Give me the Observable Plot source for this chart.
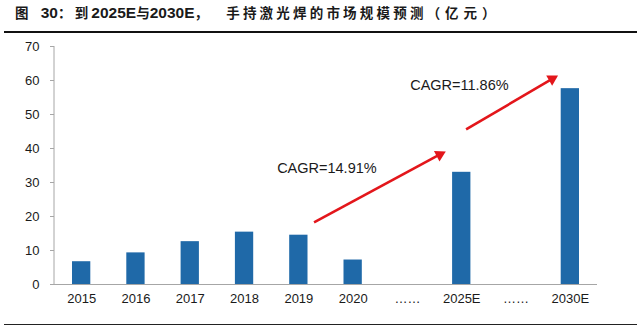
<!DOCTYPE html>
<html><head><meta charset="utf-8">
<script src="https://cdn.jsdelivr.net/npm/d3@7"></script>
<script src="https://cdn.jsdelivr.net/npm/@observablehq/plot@0.6"></script>
<style>
body{margin:0;background:#fff;width:640px;height:332px;overflow:hidden;font-family:"Liberation Sans",Arial,sans-serif}
#title{margin:0 3px 0 4px;height:33px;border-bottom:2px solid #111;box-sizing:border-box;line-height:26px;padding-left:11px;color:#1a1a1a;white-space:nowrap}
#title .c{font:bold 13.5px "Noto Sans CJK SC",sans-serif;letter-spacing:3.2px}
#title .c0{font:bold 13.5px "Noto Sans CJK SC",sans-serif;letter-spacing:0}
#title .l{font:bold 15.5px "Liberation Sans",Arial,sans-serif}
#title .p{font:bold 13.5px "Noto Sans CJK SC",sans-serif;letter-spacing:5px}
#chart{height:290px}
#foot{margin:1px 3px 0 4px;border-top:1px solid #222}
</style></head>
<body>
<div id="title"><span class="c">图</span><span class="l" style="margin-left:9px">30</span><span class="c">：到</span><span class="l">2025E</span><span class="c0">与</span><span class="l">2030E</span><span class="c">，</span><span class="c" style="margin-left:15px">手持激光焊的市场规模预测</span><span class="p">（亿元）</span></div>
<div id="chart"></div>
<div id="foot"></div>
<script>
// categories and values (亿元)
const categories = ["2015","2016","2017","2018","2019","2020","……","2025E","……","2030E"];
const values = [6.7, 9.3, 12.6, 15.4, 14.5, 7.2, null, 33.0, null, 57.6];
const yTicks = [0,10,20,30,40,50,60,70];
// CAGR arrows (x in category index units, y in value units)
const arrowX1 = [4.28, 7.08];
const arrowY1 = [18.3, 45.6];
const arrowX2 = [6.65, 8.72];
const arrowY2 = [38.7, 61.0];
const arrowRotate = [62, 60];
const cagrLabels = ["CAGR=14.91%", "CAGR=11.86%"];
const labelX = [3.6, 6.05];
const labelY = [34.1, 58.5];

const rows = categories.map((c, i) => ({i, c, v: values[i]})).filter(d => d.v != null);
const arrows = arrowX1.map((x, k) => ({x1: x, y1: arrowY1[k], x2: arrowX2[k], y2: arrowY2[k], r: arrowRotate[k]}));
const labels = cagrLabels.map((t, k) => ({t, x: labelX[k], y: labelY[k]}));

const plot = Plot.plot({
  width: 640,
  height: 290,
  marginTop: 13,
  marginBottom: 39,
  marginLeft: 54,
  marginRight: 43,
  style: {fontFamily: '"Liberation Sans", Arial, sans-serif', fontSize: "13px", color: "#1a1a1a", background: "#fff"},
  x: {domain: [-0.5, 9.5]},
  y: {domain: [0, 70]},
  marks: [
    Plot.rectY(rows, {x1: d => d.i - 0.5, x2: d => d.i + 0.5, y: "v", insetLeft: 18, insetRight: 18, fill: "#1f69a8"}),
    Plot.ruleY([0], {stroke: "#a6a6a6", strokeWidth: 1}),
    Plot.ruleX([-0.5], {y1: 0, y2: 70, stroke: "#a6a6a6", strokeWidth: 1, dx: -0.5}),
    Plot.axisY({ticks: yTicks, tickSize: 4, tickPadding: 11, stroke: "#a6a6a6", fill: "#1a1a1a", fontSize: 13, label: null}),
    Plot.axisX({ticks: categories.map((c, i) => i), tickFormat: i => categories[i], tickSize: 0, tickPadding: 9, fill: "#1a1a1a", fontSize: 13, label: null}),
    Plot.link(arrows, {x1: "x1", y1: "y1", x2: "x2", y2: "y2", stroke: "#e3161b", strokeWidth: 2.6}),
    Plot.dot(arrows, {x: "x2", y: "y2", symbol: "triangle", r: 4.4, fill: "#e3161b", stroke: null, rotate: "r", dx: -3, dy: 1.7}),
    Plot.text(labels, {x: "x", y: "y", text: "t", textAnchor: "start", fontSize: 14.5, fill: "#1a1a1a"})
  ]
});
document.getElementById("chart").appendChild(plot);
</script>
</body></html>
